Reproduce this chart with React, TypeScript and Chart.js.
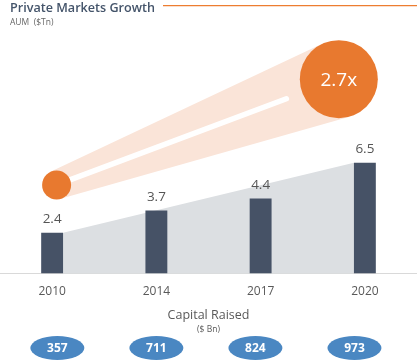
import React, { useEffect, useRef } from "react";
import { Chart, registerables } from "chart.js";

Chart.register(...registerables);

const years = ["2010", "2014", "2017", "2020"];
const aum = [2.4, 3.7, 4.4, 6.5];
const capitalRaised = [357, 711, 824, 973];
const growthLabel = "2.7x";
const titleText = "Private Markets Growth";
const subtitleText = "AUM  ($Tn)";
const capitalTitle = "Capital Raised";
const capitalUnit = "($ Bn)";

const FONT = "'Open Sans', 'DejaVu Sans', sans-serif";
const BAR = "#465266";
const GREY_AREA = "#dcdfe2";
const ORANGE = "#e8792f";
const BEAM = "#fae4d8";
const BLUE = "#4a87c2";
const TEXT = "#595959";

const decor = {
  id: "decor",
  beforeDatasetsDraw(chart: any) {
    const { ctx, chartArea, scales } = chart;
    const meta = chart.getDatasetMeta(0);
    const bars = meta.data;
    const base = chartArea.bottom;
    const b0 = bars[0];
    const b3 = bars[bars.length - 1];
    ctx.save();
    ctx.fillStyle = GREY_AREA;
    ctx.beginPath();
    ctx.moveTo(b0.x + b0.width / 2, b0.y);
    ctx.lineTo(b3.x - b3.width / 2, b3.y);
    ctx.lineTo(b3.x - b3.width / 2, base);
    ctx.lineTo(b0.x + b0.width / 2, base);
    ctx.closePath();
    ctx.fill();

    const x = scales.x;
    const y = scales.y;
    const c1 = { x: x.getPixelForValue(0.043), y: y.getPixelForValue(5.2), r: 14.5 };
    const c2 = { x: x.getPixelForValue(2.75), y: y.getPixelForValue(11.4), r: 39 };
    const dx = c2.x - c1.x;
    const dy = c2.y - c1.y;
    const d = Math.hypot(dx, dy);
    const th = Math.atan2(dy, dx);
    const a = Math.acos((c1.r - c2.r) / d);
    const p = (c: any, ang: number) => ({ x: c.x + c.r * Math.cos(ang), y: c.y + c.r * Math.sin(ang) });
    const p1a = p(c1, th + a);
    const p2a = p(c2, th + a);
    const p2b = p(c2, th - a);
    const p1b = p(c1, th - a);
    ctx.fillStyle = BEAM;
    ctx.beginPath();
    ctx.moveTo(p1a.x, p1a.y);
    ctx.lineTo(p2a.x, p2a.y);
    ctx.lineTo(p2b.x, p2b.y);
    ctx.lineTo(p1b.x, p1b.y);
    ctx.closePath();
    ctx.fill();
    const ux = dx / d;
    const uy = dy / d;
    ctx.strokeStyle = "#ffffff";
    ctx.lineWidth = 5.5;
    ctx.lineCap = "round";
    ctx.beginPath();
    ctx.moveTo(c1.x, c1.y);
    ctx.lineTo(c1.x + ux * (d - 56), c1.y + uy * (d - 56));
    ctx.stroke();
    ctx.fillStyle = ORANGE;
    ctx.beginPath();
    ctx.arc(c1.x, c1.y, c1.r, 0, Math.PI * 2);
    ctx.fill();
    ctx.beginPath();
    ctx.arc(c2.x, c2.y, c2.r, 0, Math.PI * 2);
    ctx.fill();
    ctx.fillStyle = "#ffffff";
    ctx.font = `400 19px ${FONT}`;
    ctx.textAlign = "center";
    ctx.textBaseline = "middle";
    ctx.fillText(growthLabel, c2.x, c2.y + 1);
    ctx.restore();
  },
  afterDraw(chart: any) {
    const { ctx, chartArea, scales } = chart;
    const meta = chart.getDatasetMeta(0);
    const W = chart.width;
    ctx.save();
    ctx.fillStyle = "#555555";
    ctx.font = `400 13.5px ${FONT}`;
    ctx.textAlign = "center";
    ctx.textBaseline = "alphabetic";
    meta.data.forEach((bar: any, i: number) => {
      ctx.fillText(String(aum[i]), bar.x, bar.y - 9.5);
    });
    ctx.textAlign = "left";
    ctx.fillStyle = "#44546a";
    ctx.font = `600 12.6px ${FONT}`;
    ctx.fillText(titleText, 10, 11.5);
    ctx.strokeStyle = "#ed7d31";
    ctx.lineWidth = 1.3;
    ctx.beginPath();
    ctx.moveTo(163, 5.7);
    ctx.lineTo(W, 5.7);
    ctx.stroke();
    ctx.fillStyle = "#666666";
    ctx.font = `400 8.5px ${FONT}`;
    ctx.fillText(subtitleText, 10, 25);
    const cx = (chartArea.left + chartArea.right) / 2;
    ctx.textAlign = "center";
    ctx.fillStyle = TEXT;
    ctx.font = `400 12.5px ${FONT}`;
    ctx.fillText(capitalTitle, cx, 319.3);
    ctx.font = `400 8.5px ${FONT}`;
    ctx.fillText(capitalUnit, cx, 331.5);
    const x = scales.x;
    capitalRaised.forEach((v, i) => {
      const ex = x.getPixelForValue(0.05 + i * 0.95);
      const ey = 348;
      ctx.fillStyle = BLUE;
      ctx.beginPath();
      ctx.ellipse(ex, ey, 27, 12, 0, 0, Math.PI * 2);
      ctx.fill();
      ctx.fillStyle = "#ffffff";
      ctx.font = `700 12px ${FONT}`;
      ctx.textBaseline = "middle";
      ctx.fillText(String(v), ex, ey + 0.5);
    });
    ctx.restore();
  },
};

export default function App() {
  const ref = useRef<HTMLCanvasElement>(null);
  useEffect(() => {
    if (!ref.current) return;
    const chart = new Chart(ref.current, {
      type: "bar",
      data: {
        labels: years,
        datasets: [
          {
            data: aum,
            backgroundColor: BAR,
            borderWidth: 0,
            barPercentage: 0.7,
            categoryPercentage: 0.3,
          },
        ],
      },
      options: {
        responsive: false,
        animation: false,
        devicePixelRatio: 1,
        layout: { padding: { top: 0, left: 0, right: 0, bottom: 50 } },
        plugins: { legend: { display: false }, tooltip: { enabled: false } },
        scales: {
          x: {
            grid: { display: false, drawTicks: false },
            border: { display: true, color: "#d9d9d9", width: 1 },
            ticks: { color: TEXT, font: { family: FONT, size: 12 }, padding: 11 },
          },
          y: { display: false, min: 0, max: 16.04 },
        },
      },
      plugins: [decor],
    });
    return () => chart.destroy();
  }, []);
  return (
    <div style={{ position: "fixed", left: 0, top: 0, width: 417, height: 360, background: "#fff" }}>
      <canvas ref={ref} width={417} height={360} />
    </div>
  );
}
